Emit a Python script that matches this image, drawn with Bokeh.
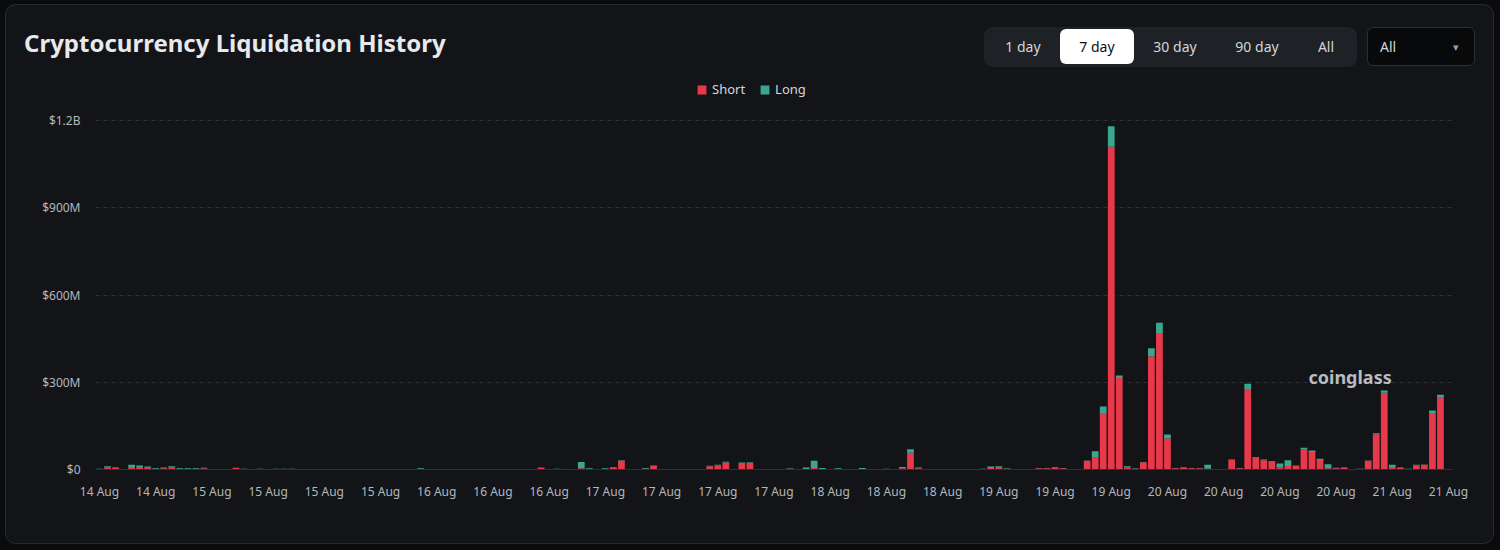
from bokeh.plotting import figure
from bokeh.layouts import column
from bokeh.models import (ColumnDataSource, FixedTicker, Label, Legend, LegendItem,
                          Range1d, Div)
from bokeh.embed import file_html
from bokeh.resources import INLINE

# hourly buckets starting 14 Aug 11:00 (values in $ millions)
hours = list(range(169))
short_vals = [
    2, 7, 6, 1, 6, 6, 6, 3, 4, 7,
    3, 2, 2, 4, 1, 1, 1, 5, 2, 1,
    2, 1, 1.5, 1.5, 1.5, 1, 1, 1, 1, 1,
    1.5, 1, 0.5, 1, 0.5, 1, 1, 0.5, 1, 1,
    1, 1, 0.5, 1, 0.5, 1, 1, 0.5, 1, 0.5,
    1, 0.5, 0.5, 1, 1, 6, 0.5, 2, 0.5, 0.5,
    4, 2, 0.5, 2, 7, 30, 0.5, 0.5, 3, 12,
    1, 1, 1, 1, 1, 1, 11, 14, 24, 1,
    22, 23, 1, 1, 0.5, 1, 3, 0.5, 2, 5,
    2, 1, 2, 1, 0.5, 2, 1, 0.5, 2, 1,
    4, 58, 4, 1, 0.5, 1, 0.5, 1, 1, 0.5,
    2, 5, 9, 3, 0.5, 1, 0.5, 4, 4, 8,
    4, 1, 1, 30, 40, 194, 1110, 315, 8, 3,
    25, 389, 469, 107, 4, 6, 4, 4, 3, 1,
    1, 33, 4, 277, 40, 32, 27, 8, 12, 13,
    70, 60, 33, 4, 4, 7, 1, 2, 30, 121,
    264, 6, 5, 2, 15, 16, 194, 249, 1,
]
long_vals = [
    1, 4, 2, 1, 10, 8, 4, 2, 3, 4,
    2, 2, 2, 2, 1, 1, 1, 1, 1, 0.5,
    1, 0.5, 1, 1, 1, 1, 0.5, 0.5, 0.5, 0.5,
    0.5, 0.5, 0.5, 1, 0.5, 0.5, 0.5, 0.5, 0.5, 1,
    3, 1, 0.5, 0.5, 0.5, 0.5, 0.5, 0.5, 0.5, 0.5,
    0.5, 0.5, 0.5, 0.5, 0.5, 1, 0.5, 1, 0.5, 0.5,
    22, 2, 0.5, 2, 2, 2, 0.5, 0.5, 2, 2,
    0.5, 1, 1, 0.5, 1, 1, 2, 2, 3, 0.5,
    2, 2, 0.5, 0.5, 0.5, 0.5, 1, 0.5, 5, 25,
    3, 0.5, 2, 1, 0.5, 3, 1, 0.5, 0.5, 0.5,
    5, 12, 3, 1, 0.5, 1, 0.5, 0.5, 1, 0.5,
    1, 5, 2, 1, 0.5, 0.5, 0.5, 1, 1, 1,
    1, 1, 1, 1, 23, 23, 70, 8, 3, 1,
    1, 28, 36, 13, 1, 2, 1, 1, 13, 1,
    1, 1, 1, 18, 3, 2, 2, 13, 20, 1,
    5, 5, 4, 14, 2, 1, 1, 1, 1, 4,
    8, 10, 2, 1, 1, 1, 9, 8, 0.5,
]
x_tick_positions = list(range(0, 169, 7))
x_tick_labels = ["14 Aug", "14 Aug", "15 Aug", "15 Aug", "15 Aug", "15 Aug",
                 "16 Aug", "16 Aug", "16 Aug", "17 Aug", "17 Aug", "17 Aug",
                 "17 Aug", "18 Aug", "18 Aug", "18 Aug", "19 Aug", "19 Aug",
                 "19 Aug", "20 Aug", "20 Aug", "20 Aug", "20 Aug", "21 Aug", "21 Aug"]
y_tick_positions = [0, 300, 600, 900, 1200]
y_tick_labels = ["$0", "$300M", "$600M", "$900M", "$1.2B"]
series_names = ["Short", "Long"]
range_buttons = ["1 day", "7 day", "30 day", "90 day", "All"]
assert len(short_vals) == len(hours) == len(long_vals)

RED = "#e8394b"
TEAL = "#3ba68f"
CARD = "#121418"
TXT = "#b4b8be"
FONT = "Noto Sans"

# page geometry (card at x 6..1493, y 5..543)
CX, CY = 6, 5
CW, CH = 1487, 538
HEAD_H = 70
FL, FR, FT, FB = 95, 1452, 76, 469   # frame edges in page px
Y1200 = 120                           # page y of the $1.2B grid line
y_top = 1200 * (FB - FT) / (FB - Y1200)

# ---------------- header (HTML) ----------------
def box(left, top, w, h, inner="", style=""):
    return (f'<div style="position:absolute;left:{left - CX}px;top:{top - CY}px;'
            f'width:{w}px;height:{h}px;display:flex;align-items:center;'
            f'justify-content:center;{style}">{inner}</div>')

btn_centers = [1023, 1097, 1175, 1257, 1326]
parts = []
parts.append(box(24, 27, 600, 32,
                 '<span style="width:100%;text-align:left">Cryptocurrency Liquidation History</span>',
                 "font-size:24px;font-weight:700;color:#e7e9ec;justify-content:flex-start;"))
parts.append(box(984, 27, 373, 40, "", "background:#1e2126;border-radius:9px;"))
parts.append(box(1060, 29, 74, 35, "", "background:#ffffff;border-radius:6px;"))
for name, cx in zip(range_buttons, btn_centers):
    col = "#0d0e10" if name == "7 day" else "#d3d6da"
    parts.append(box(cx - 40, 29, 80, 35, name, f"font-size:14px;color:{col};"))
parts.append(box(1367, 27, 108, 39, "",
                 "background:#08090b;border:1px solid #2c2f35;border-radius:6px;box-sizing:border-box;"))
parts.append(box(1380, 27, 40, 39, "All", "font-size:14px;color:#d3d6da;justify-content:flex-start;"))
parts.append(box(1450, 27, 12, 39, "&#9662;", "font-size:11px;color:#9a9ea5;"))

header = Div(text=(f'<div style="position:relative;width:{CW}px;height:{HEAD_H}px;'
                   f'font-family:\'{FONT}\',sans-serif;">' + "".join(parts) + "</div>"),
             width=CW, height=HEAD_H, margin=0)

# ---------------- chart ----------------
p = figure(width=CW, height=CH - HEAD_H, output_backend="svg", toolbar_location=None,
           x_range=Range1d(-0.5, 168.5), y_range=Range1d(0, y_top),
           min_border_left=FL - CX, min_border_right=CX + CW - FR,
           min_border_top=FT - (CY + HEAD_H), min_border_bottom=CY + CH - FB,
           margin=0)
p.background_fill_color = CARD
p.border_fill_color = CARD
p.outline_line_color = None

src = ColumnDataSource(dict(x=hours, short=short_vals, long=long_vals))
rs = p.vbar_stack(["short", "long"], x="x", width=0.84, color=[RED, TEAL],
                  line_color=None, source=src)

p.xgrid.grid_line_color = None
p.ygrid.grid_line_color = "#2d3036"
p.ygrid.grid_line_dash = "4 4"
p.ygrid.grid_line_width = 1

p.xaxis.ticker = FixedTicker(ticks=x_tick_positions)
p.xaxis.major_label_overrides = dict(zip(x_tick_positions, x_tick_labels))
p.yaxis.ticker = FixedTicker(ticks=y_tick_positions)
p.yaxis.major_label_overrides = dict(zip(y_tick_positions, y_tick_labels))
for ax in (p.xaxis[0], p.yaxis[0]):
    ax.major_tick_line_color = None
    ax.minor_tick_line_color = None
    ax.major_label_text_color = TXT
    ax.major_label_text_font = FONT
    ax.major_label_text_font_size = "12px"
p.yaxis.axis_line_color = None
p.xaxis.axis_line_color = "#2d3036"
p.xaxis.major_label_standoff = 7
p.yaxis.major_label_standoff = 9

# legend centred on page y 89 (location = bottom-left corner, from frame bottom)
LEG_H = 20
legend = Legend(items=[LegendItem(label=series_names[0], renderers=[rs[0]]),
                       LegendItem(label=series_names[1], renderers=[rs[1]])],
                location=(696 - FL, FB - (89 + LEG_H // 2)), orientation="horizontal",
                background_fill_alpha=0, border_line_color=None,
                label_text_color="#d3d6da", label_text_font=FONT,
                label_text_font_size="13px", glyph_width=11, glyph_height=11,
                label_height=LEG_H, label_standoff=5, spacing=14, padding=0, margin=0)
p.add_layout(legend)

p.add_layout(Label(x=1308 - FL, y=FB - 376, x_units="screen", y_units="screen",
                   text="coinglass", text_font=FONT, text_font_size="18px",
                   text_font_style="bold", text_color="#b9bcc1",
                   text_baseline="middle"))

layout = column(header, p, spacing=0, margin=0,
                styles={"background": CARD, "border-radius": "10px",
                        "overflow": "hidden", "box-shadow": "0 0 0 1px #262930"})

html = file_html(layout, INLINE)
html = html.replace("</head>",
                    "<style>html,body{background:#0a0b0d !important;}"
                    f"body{{padding:{CY}px 0 0 {CX}px !important;}}</style></head>")
open("out.html", "w").write(html)
